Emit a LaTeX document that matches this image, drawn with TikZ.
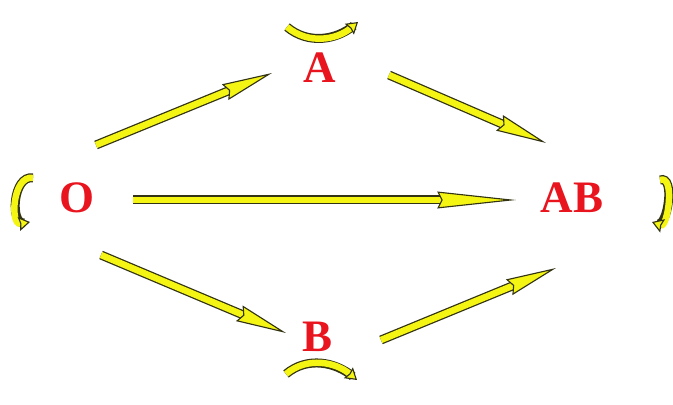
\documentclass[tikz,border=0pt]{standalone}
\usepackage{fontspec}
\setmainfont{Liberation Serif}
\usetikzlibrary{arrows.meta, positioning}
\definecolor{stateRed}{RGB}{232,20,30}
\definecolor{flowYellow}{RGB}{245,245,20}
\definecolor{flowEdge}{RGB}{50,50,20}

\begin{document}
\begin{tikzpicture}[x=0.025cm, y=-0.025cm, every node/.style={font=\bfseries\fontsize{32}{34}\selectfont}]
  % Styles
  \tikzset{
    state/.style={text=stateRed, inner sep=2pt},
    flow/.style={flowYellow, line width=4.6pt,
      -{Stealth[length=#1, width=12pt, inset=3pt, fill=flowYellow, color=flowEdge, line width=0.8pt]},
      preaction={draw=flowEdge, line width=6.4pt, arrows=-, shorten >=#1-6pt}},
    flow/.default=36pt,
    curl/.style={flowYellow, line width=4.6pt,
      -{Stealth[length=8pt, width=10pt, inset=1pt, fill=flowYellow, color=flowEdge, line width=0.8pt]},
      preaction={draw=flowEdge, line width=6.4pt, arrows=-, shorten >=4pt}}
  }
  \useasboundingbox (0,0) rectangle (673,405);

  % Nodes
  \node (A) [state] at (320,68) {A};
  \node (O) [state] at (77,198) {O};
  \node (AB) [state] at (572,198) {AB};
  \node (B) [state] at (318,337) {B};

  % Loop ends
  \coordinate (Aa) at ([shift={(-33,-41)}]A.center);
  \coordinate (Ab) at ([shift={(38,-46)}]A.center);
  \coordinate (Oa) at ([shift={(-44,-20)}]O.center);
  \coordinate (Ob) at ([shift={(-47,24)}]O.center);
  \coordinate (ABa) at ([shift={(88,-18)}]AB.center);
  \coordinate (ABb) at ([shift={(80,24)}]AB.center);
  \coordinate (Ba) at ([shift={(-32,37)}]B.center);
  \coordinate (Bb) at ([shift={(39,43)}]B.center);

  % Arrows
  \draw [flow] ([shift={(19,-53)}]O.center) -- ([shift={(-48,5)}]A.center);
  \draw [flow] ([shift={(69,7)}]A.center) -- ([shift={(-26,-55)}]AB.center);
  \draw [flow=56pt] ([shift={(56,2)}]O.center) -- ([shift={(-56,2)}]AB.center);
  \draw [flow] ([shift={(24,57)}]O.center) -- ([shift={(-32,-4)}]B.center);
  \draw [flow] ([shift={(63,3)}]B.center) -- ([shift={(-16,70)}]AB.center);

  % Loops
  \draw [curl] (Aa) to[out=-40, in=-140] (Ab);
  \draw [curl] (Oa) to[out=170, in=190, looseness=1.2] (Ob);
  \draw [curl] (ABa) to[out=20, in=-20] (ABb);
  \draw [curl] (Ba) to[out=40, in=140] (Bb);
\end{tikzpicture}
\end{document}
